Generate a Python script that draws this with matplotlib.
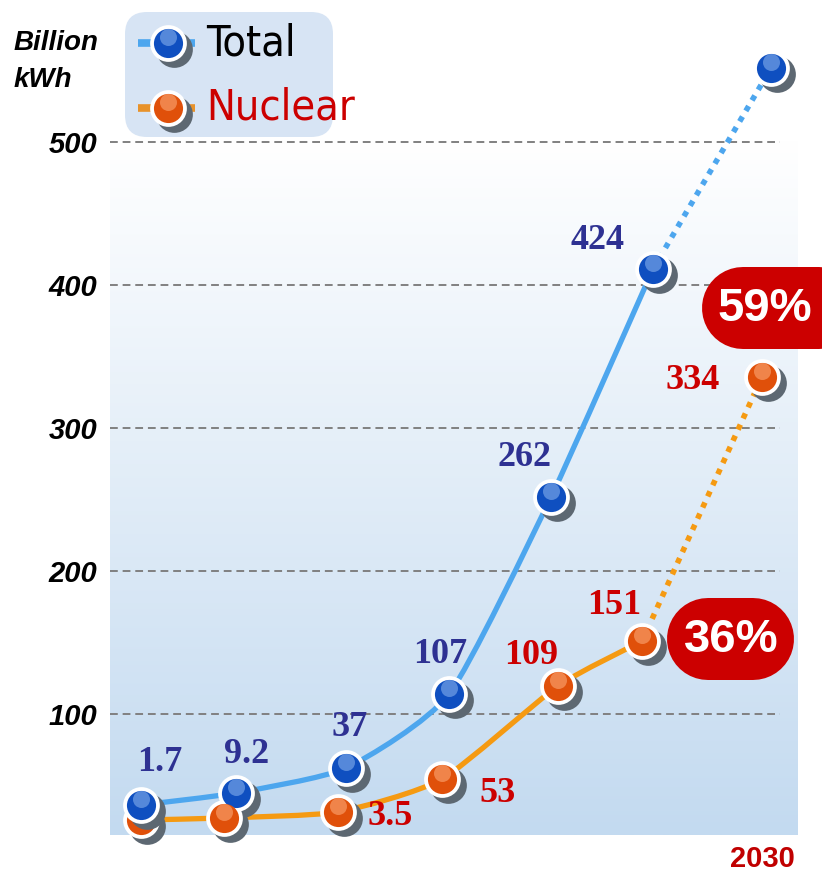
import numpy as np
import matplotlib
matplotlib.use('Agg')
import matplotlib.pyplot as plt
from matplotlib.path import Path
from matplotlib.patches import PathPatch, FancyBboxPatch
from matplotlib.transforms import offset_copy
from matplotlib.colors import LinearSegmentedColormap

# data (x in arbitrary position units)
x_total = [31, 126, 236, 339, 441, 543, 661]
y_total = [36.4, 44.8, 62.2, 113.9, 251.7, 411.2, 551.7]
lab_total = ['1.7', '9.2', '37', '107', '262', '424', '']
x_nuc = [31, 114, 228, 332, 448, 532, 652]
y_nuc = [25.9, 27.3, 31.5, 54.5, 119.6, 151.0, 335.7]
lab_nuc = ['', '', '3.5', '53', '109', '151', '334']
y_ticks = [100, 200, 300, 400, 500]
year_label = '2030'
share_total = '59%'
share_nuc = '36%'

# label offsets in pixels (dx, dy up)
off_total = [(19, 42), (11, 38), (4, 41), (-9, 40), (-27, 40), (-56, 28), (0, 0)]
off_nuc = [(0, 0), (0, 0), (52, -5), (56, -14), (-27, 30), (-28, 36), (-69, -4)]

W, H = 822, 876
fig = plt.figure(figsize=(W / 100, H / 100), dpi=100)
ax = fig.add_axes([110 / W, 1 - 835 / H, 687 / W, 835 / H])
ax.set_xlim(0, 687)
ylo, yhi = (857 - 835) / 1.43, 857 / 1.43
for s in ax.spines.values():
    s.set_visible(False)
ax.set_facecolor('none')

# background gradient
cmap = LinearSegmentedColormap.from_list('bg', ['#ffffff', '#c3daf0'])
grad = np.linspace(0, 1, 256).reshape(-1, 1)
ax.imshow(grad, aspect='auto', cmap=cmap, extent=(0, 687, ylo, (857 - 140) / 1.43),
          origin='upper', zorder=0)
ax.set_xlim(0, 687)
ax.set_ylim(ylo, yhi)

ax.hlines(y_ticks, 0, 670, colors='#808080', linestyles=(0, (4, 2.5)), linewidth=1.4, zorder=1)
ax.set_yticks(y_ticks)
ax.set_yticklabels([str(t) for t in y_ticks], fontsize=21, fontweight='bold', style='italic',
                   family='Liberation Sans')
ax.tick_params(axis='y', length=0, pad=9)
ax.set_xticks([x_nuc[-1]])
ax.set_xticklabels([year_label], fontsize=21, fontweight='bold', color='#c00000',
                   family='Liberation Sans')
ax.tick_params(axis='x', length=0, pad=7)


def smooth_path(xs, ys, k=0.1):
    pts = np.column_stack([xs, ys]).astype(float)
    n = len(pts)
    verts = [pts[0]]
    codes = [Path.MOVETO]
    for i in range(n - 1):
        p0 = pts[max(i - 1, 0)]
        p1 = pts[i]
        p2 = pts[i + 1]
        p3 = pts[min(i + 2, n - 1)]
        verts += [p1 + (p2 - p0) * k, p2 - (p3 - p1) * k, p2]
        codes += [Path.CURVE4] * 3
    return Path(verts, codes)


def draw_series(xs, ys, color):
    ax.add_patch(PathPatch(smooth_path(xs[:-1], ys[:-1]), fill=False, edgecolor=color,
                           linewidth=3.8, capstyle='round', zorder=2))
    ax.plot(xs[-2:], ys[-2:], color=color, linewidth=4, linestyle=(0, (1, 1.2)), zorder=2)


draw_series(x_total, y_total, '#4da6ee')
draw_series(x_nuc, y_nuc, '#f59a12')

shadow = offset_copy(ax.transData, fig=fig, x=6, y=-6, units='dots')
hilite = offset_copy(ax.transData, fig=fig, x=0, y=6, units='dots')


def sphere(target, tr_sh, tr_hi, x, y, base, light, z):
    target.scatter([x], [y], s=700, color='#5d6872', transform=tr_sh, zorder=z, clip_on=False,
                   linewidths=0)
    target.scatter([x], [y], s=700, color='white', zorder=z + 0.1, clip_on=False, linewidths=0)
    target.scatter([x], [y], s=440, color=base, zorder=z + 0.2, clip_on=False, linewidths=0)
    target.scatter([x], [y], s=150, color=light, alpha=0.55, zorder=z + 0.3, clip_on=False,
                   linewidths=0, transform=tr_hi)


for i, (x, y) in enumerate(zip(x_nuc, y_nuc)):
    sphere(ax, shadow, hilite, x, y, '#e0500a', '#ffb080', 3 + i * 0.01)
for i, (x, y) in enumerate(zip(x_total, y_total)):
    z = 4 if i == 0 else 2.9
    sphere(ax, shadow, hilite, x, y, '#0f4fc0', '#8fb8f0', z + i * 0.01)

for x, y, t, (dx, dy) in zip(x_total, y_total, lab_total, off_total):
    if t:
        ax.annotate(t, (x, y), xytext=(dx, dy), textcoords='offset pixels', ha='center',
                    va='center', fontsize=26, fontweight='bold', color='#2e3192',
                    family='Liberation Serif', zorder=6)
for x, y, t, (dx, dy) in zip(x_nuc, y_nuc, lab_nuc, off_nuc):
    if t:
        ax.annotate(t, (x, y), xytext=(dx, dy), textcoords='offset pixels', ha='center',
                    va='center', fontsize=26, fontweight='bold', color='#cc0000',
                    family='Liberation Serif', zorder=6)

# decoration layer in pixel coordinates
deco = fig.add_axes([0, 0, 1, 1], zorder=5)
deco.set_xlim(0, W)
deco.set_ylim(H, 0)
deco.axis('off')

deco.text(14, 43, 'Billion', fontsize=20, fontweight='bold', style='italic',
          family='Liberation Sans', va='center')
deco.text(14, 80, 'kWh', fontsize=20, fontweight='bold', style='italic',
          family='Liberation Sans', va='center')

deco.add_patch(FancyBboxPatch((125, 12), 208, 125, boxstyle='round,pad=0,rounding_size=22',
                              facecolor='#d7e4f4', edgecolor='none'))
dsh = offset_copy(deco.transData, fig=fig, x=6, y=-6, units='dots')
dhi = offset_copy(deco.transData, fig=fig, x=0, y=6, units='dots')
for yy, lc, base, light, name, tc in [(43, '#4da6ee', '#0f4fc0', '#8fb8f0', 'Total', 'black'),
                                       (108, '#e8922a', '#e0500a', '#ffb080', 'Nuclear', '#cc0000')]:
    deco.plot([138, 195], [yy, yy], color=lc, linewidth=5.5, solid_capstyle='butt')
    sphere(deco, dsh, dhi, 168, yy, base, light, 3)
    deco.text(206, yy, name, fontsize=31, color=tc, va='center', family='DejaVu Sans',
              stretch='condensed')

# percentage badges drawn as thick round-capped strokes
for (x0, x1, cy), tx, txt in [((702, 860, 308), 765, share_total),
                               ((667, 794, 639), 731, share_nuc)]:
    r = 41
    deco.plot([x0 + r, x1 - r], [cy, cy], color='#cc0000', linewidth=2 * r * 72 / 100,
              solid_capstyle='round', zorder=4)
    deco.text(tx, cy + 1, txt, fontsize=34, fontweight='bold', color='white', ha='center',
              va='center', family='Liberation Sans', zorder=5)

fig.savefig('out.png', dpi=100)
